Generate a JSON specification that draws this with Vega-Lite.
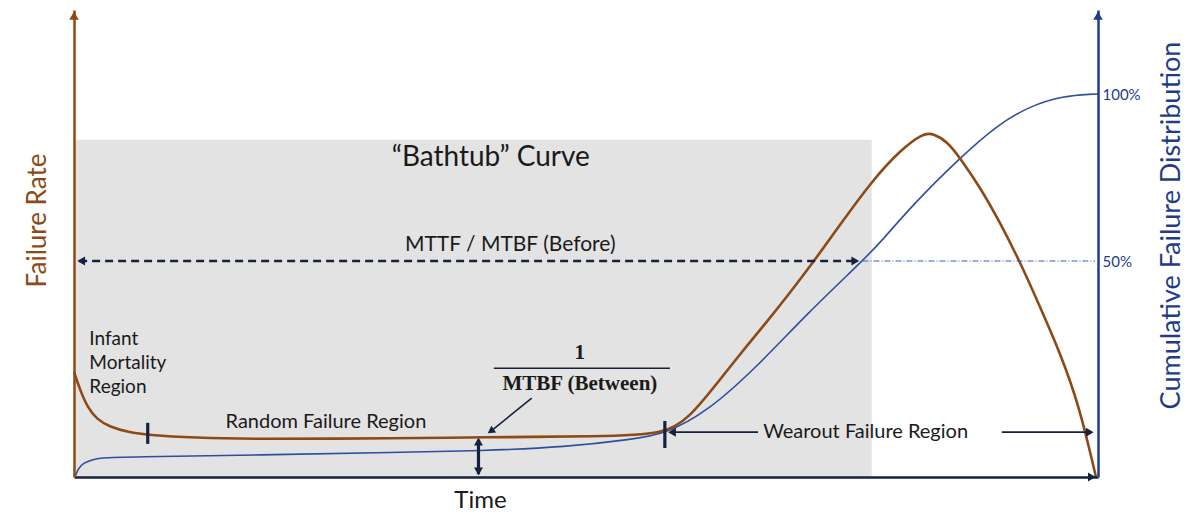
{
  "$schema": "https://vega.github.io/schema/vega-lite/v6.json",
  "width": 1024,
  "height": 467,
  "autosize": {"type": "none"},
  "padding": {"left": 74, "top": 10, "right": 102, "bottom": 44},
  "background": "white",
  "config": {"view": {"stroke": null}},
  "encoding": {
    "x": {"field": "t", "type": "quantitative", "scale": {"domain": [0, 100], "nice": false, "zero": false},
      "axis": {"title": "Time", "zindex": 1, "ticks": false, "labels": false, "grid": false, "domainColor": "#16213d", "domainWidth": 2.5, "titleColor": "#1a1a1a", "titleFont": "Lato", "titleFontSize": 24, "titleFontWeight": "normal", "titlePadding": 11, "titleX": 406}},
    "y": {"field": "v", "type": "quantitative", "scale": {"domain": [0, 100], "nice": false, "zero": false}, "axis": null}
  },
  "resolve": {"axis": {"y": "independent"}},
  "layer": [
    {
      "data": {"values": [{"t": 0, "t2": 77.9, "v": 0, "v2": 72.2}]},
      "mark": {"type": "rect", "color": "#e3e3e3"},
      "encoding": {
        "x2": {"field": "t2"},
        "y": {"field": "v", "type": "quantitative", "scale": {"domain": [0, 100], "nice": false, "zero": false},
          "axis": {"orient": "left", "zindex": 1, "title": "Failure Rate", "ticks": false, "labels": false, "grid": false, "domainColor": "#8c4a16", "domainWidth": 2.5, "titleColor": "#8c4a16", "titleFont": "Lato", "titleFontSize": 26, "titleFontWeight": "normal", "titlePadding": 24, "titleY": 210}},
        "y2": {"field": "v2"}
      }
    },
    {
      "data": {"values": [
        {"t": 0.1, "v": 0}, {"t": 0.4, "v": 1.8}, {"t": 0.9, "v": 3.0}, {"t": 1.8, "v": 3.7}, {"t": 2.5, "v": 4.1},
        {"t": 5.2, "v": 4.3}, {"t": 18.2, "v": 4.7}, {"t": 31.8, "v": 5.3}, {"t": 39.6, "v": 5.6}, {"t": 48.1, "v": 6.4},
        {"t": 54.6, "v": 8.1}, {"t": 57.7, "v": 9.2}, {"t": 61.8, "v": 13.9}, {"t": 66.7, "v": 23.6}, {"t": 71.6, "v": 35.0},
        {"t": 77.0, "v": 46.3}, {"t": 78.7, "v": 50.1}, {"t": 81.9, "v": 58.3}, {"t": 86.5, "v": 68.3}, {"t": 90.1, "v": 75.3},
        {"t": 93.4, "v": 79.5}, {"t": 96.6, "v": 81.6}, {"t": 99.5, "v": 82.0}, {"t": 100, "v": 82.0}
      ]},
      "mark": {"type": "line", "color": "#2d4f9e", "strokeWidth": 1.6, "interpolate": "basis"},
      "encoding": {
        "y": {"field": "v", "type": "quantitative", "scale": {"domain": [0, 100], "nice": false, "zero": false},
          "axis": {"orient": "right", "zindex": 1, "title": "Cumulative Failure Distribution", "values": [46.25, 81.8], "labelExpr": "datum.value > 60 ? '100%' : '50%'", "ticks": false, "grid": false, "domainColor": "#1f3c88", "domainWidth": 2.5, "labelColor": "#1f3c88", "labelFont": "Lato", "labelFontSize": 15, "labelPadding": 4, "titleColor": "#1f3c88", "titleFont": "Lato", "titleFontSize": 27, "titleFontWeight": "normal", "titleAngle": -90, "titleBaseline": "top", "titleX": 60, "titleY": 215}}
      }
    },
    {
      "data": {"values": [
        {"t": 0, "v": 22.5}, {"t": 0.6, "v": 18.6}, {"t": 1.3, "v": 15.0}, {"t": 2.2, "v": 12.4}, {"t": 3.5, "v": 10.7},
        {"t": 5.3, "v": 9.6}, {"t": 7.2, "v": 9.0}, {"t": 11.6, "v": 8.4}, {"t": 18.2, "v": 8.1}, {"t": 31.8, "v": 8.3},
        {"t": 39.6, "v": 8.5}, {"t": 51.4, "v": 8.7}, {"t": 57.7, "v": 9.0}, {"t": 60.2, "v": 13.0}, {"t": 62.6, "v": 19.5},
        {"t": 65.0, "v": 26.2}, {"t": 67.5, "v": 32.8}, {"t": 69.9, "v": 39.4}, {"t": 72.2, "v": 46.0}, {"t": 74.8, "v": 54.0},
        {"t": 78.0, "v": 63.6}, {"t": 80.7, "v": 70.0}, {"t": 82.9, "v": 73.6}, {"t": 83.9, "v": 73.6}, {"t": 85.3, "v": 71.8},
        {"t": 86.5, "v": 68.4}, {"t": 88.5, "v": 62.0}, {"t": 90.4, "v": 54.6}, {"t": 92.4, "v": 46.0}, {"t": 94.3, "v": 36.6},
        {"t": 96.3, "v": 26.6}, {"t": 98.2, "v": 15.0}, {"t": 99.8, "v": 0}
      ]},
      "mark": {"type": "line", "color": "#8c4a16", "strokeWidth": 2.6, "interpolate": "basis"}
    },
    {
      "data": {"values": [{"t": 0.5, "t2": 76.4, "v": 46.25, "v2": 46.25}]},
      "mark": {"type": "rule", "color": "#16213d", "strokeWidth": 2.5, "strokeDash": [8, 5]},
      "encoding": {"x2": {"field": "t2"}, "y2": {"field": "v2"}}
    },
    {
      "data": {"values": [{"t": 77.0, "t2": 99.7, "v": 46.25, "v2": 46.25}]},
      "mark": {"type": "rule", "color": "#3a5fa8", "strokeWidth": 1, "strokeDash": [6, 2, 1, 2]},
      "encoding": {"x2": {"field": "t2"}, "y2": {"field": "v2"}}
    },
    {
      "data": {"values": [
        {"t": 41.0, "t2": 58.2, "v": 23.3, "v2": 23.3},
        {"t": 58.4, "t2": 66.8, "v": 9.6, "v2": 9.6},
        {"t": 90.6, "t2": 99.0, "v": 9.6, "v2": 9.6},
        {"t": 44.7, "t2": 40.6, "v": 16.9, "v2": 9.6}
      ]},
      "mark": {"type": "rule", "color": "#16213d", "strokeWidth": 1.6},
      "encoding": {"x2": {"field": "t2"}, "y2": {"field": "v2"}}
    },
    {
      "data": {"values": [
        {"t": 7.2, "t2": 7.2, "v": 7.1, "v2": 11.6},
        {"t": 57.7, "t2": 57.7, "v": 6.2, "v2": 12.0},
        {"t": 39.5, "t2": 39.5, "v": 0.6, "v2": 8.0}
      ]},
      "mark": {"type": "rule", "color": "#16213d", "strokeWidth": 3.2},
      "encoding": {"x2": {"field": "t2"}, "y2": {"field": "v2"}}
    },
    {
      "data": {"values": [{"t": 0, "v": 98.8}]},
      "mark": {"type": "point", "shape": "triangle-up", "filled": true, "color": "#8c4a16", "size": 90, "opacity": 1}
    },
    {
      "data": {"values": [{"t": 100, "v": 98.8}]},
      "mark": {"type": "point", "shape": "triangle-up", "filled": true, "color": "#1f3c88", "size": 90, "opacity": 1}
    },
    {
      "data": {"values": [{"t": 39.5, "v": 7.6}]},
      "mark": {"type": "point", "shape": "triangle-up", "filled": true, "color": "#16213d", "size": 80, "opacity": 1}
    },
    {
      "data": {"values": [{"t": 39.5, "v": 1.2}]},
      "mark": {"type": "point", "shape": "triangle-down", "filled": true, "color": "#16213d", "size": 80, "opacity": 1}
    },
    {
      "data": {"values": [{"t": 76.3, "v": 46.25}, {"t": 99.2, "v": 9.6}, {"t": 99.4, "v": 0}]},
      "mark": {"type": "point", "shape": "triangle-right", "filled": true, "color": "#16213d", "size": 80, "opacity": 1}
    },
    {
      "data": {"values": [{"t": 0.7, "v": 46.25}, {"t": 58.4, "v": 9.6}]},
      "mark": {"type": "point", "shape": "triangle-left", "filled": true, "color": "#16213d", "size": 80, "opacity": 1}
    },
    {
      "data": {"values": [{"t": 40.7, "v": 9.8}]},
      "mark": {"type": "point", "shape": "triangle-up", "angle": 235, "filled": true, "color": "#16213d", "size": 70, "opacity": 1}
    },
    {
      "data": {"values": [{"t": 40.7, "v": 68.3, "label": "“Bathtub” Curve"}]},
      "mark": {"type": "text", "font": "Lato", "fontSize": 28, "color": "#1a1a1a", "align": "center", "baseline": "middle"},
      "encoding": {"text": {"field": "label"}}
    },
    {
      "data": {"values": [{"t": 42.6, "v": 49.7, "label": "MTTF / MTBF (Before)"}]},
      "mark": {"type": "text", "font": "Lato", "fontSize": 21, "color": "#1a1a1a", "align": "center", "baseline": "middle"},
      "encoding": {"text": {"field": "label"}}
    },
    {
      "data": {"values": [
        {"t": 1.5, "v": 29.6, "label": "Infant"},
        {"t": 1.5, "v": 24.4, "label": "Mortality"},
        {"t": 1.5, "v": 19.3, "label": "Region"}
      ]},
      "mark": {"type": "text", "font": "Lato", "fontSize": 19, "color": "#1a1a1a", "align": "left", "baseline": "middle"},
      "encoding": {"text": {"field": "label"}}
    },
    {
      "data": {"values": [
        {"t": 24.6, "v": 11.8, "label": "Random Failure Region"}
      ]},
      "mark": {"type": "text", "font": "Lato", "fontSize": 20, "color": "#1a1a1a", "align": "center", "baseline": "middle"},
      "encoding": {"text": {"field": "label"}}
    },
    {
      "data": {"values": [{"t": 67.3, "v": 9.6, "label": "Wearout Failure Region"}]},
      "mark": {"type": "text", "font": "Lato", "fontSize": 20, "color": "#1a1a1a", "align": "left", "baseline": "middle"},
      "encoding": {"text": {"field": "label"}}
    },
    {
      "data": {"values": [
        {"t": 49.4, "v": 26.6, "label": "1"},
        {"t": 49.4, "v": 19.9, "label": "MTBF (Between)"}
      ]},
      "mark": {"type": "text", "font": "Liberation Serif", "fontWeight": "bold", "fontSize": 21, "color": "#1a1a1a", "align": "center", "baseline": "middle"},
      "encoding": {"text": {"field": "label"}}
    }
  ]
}
